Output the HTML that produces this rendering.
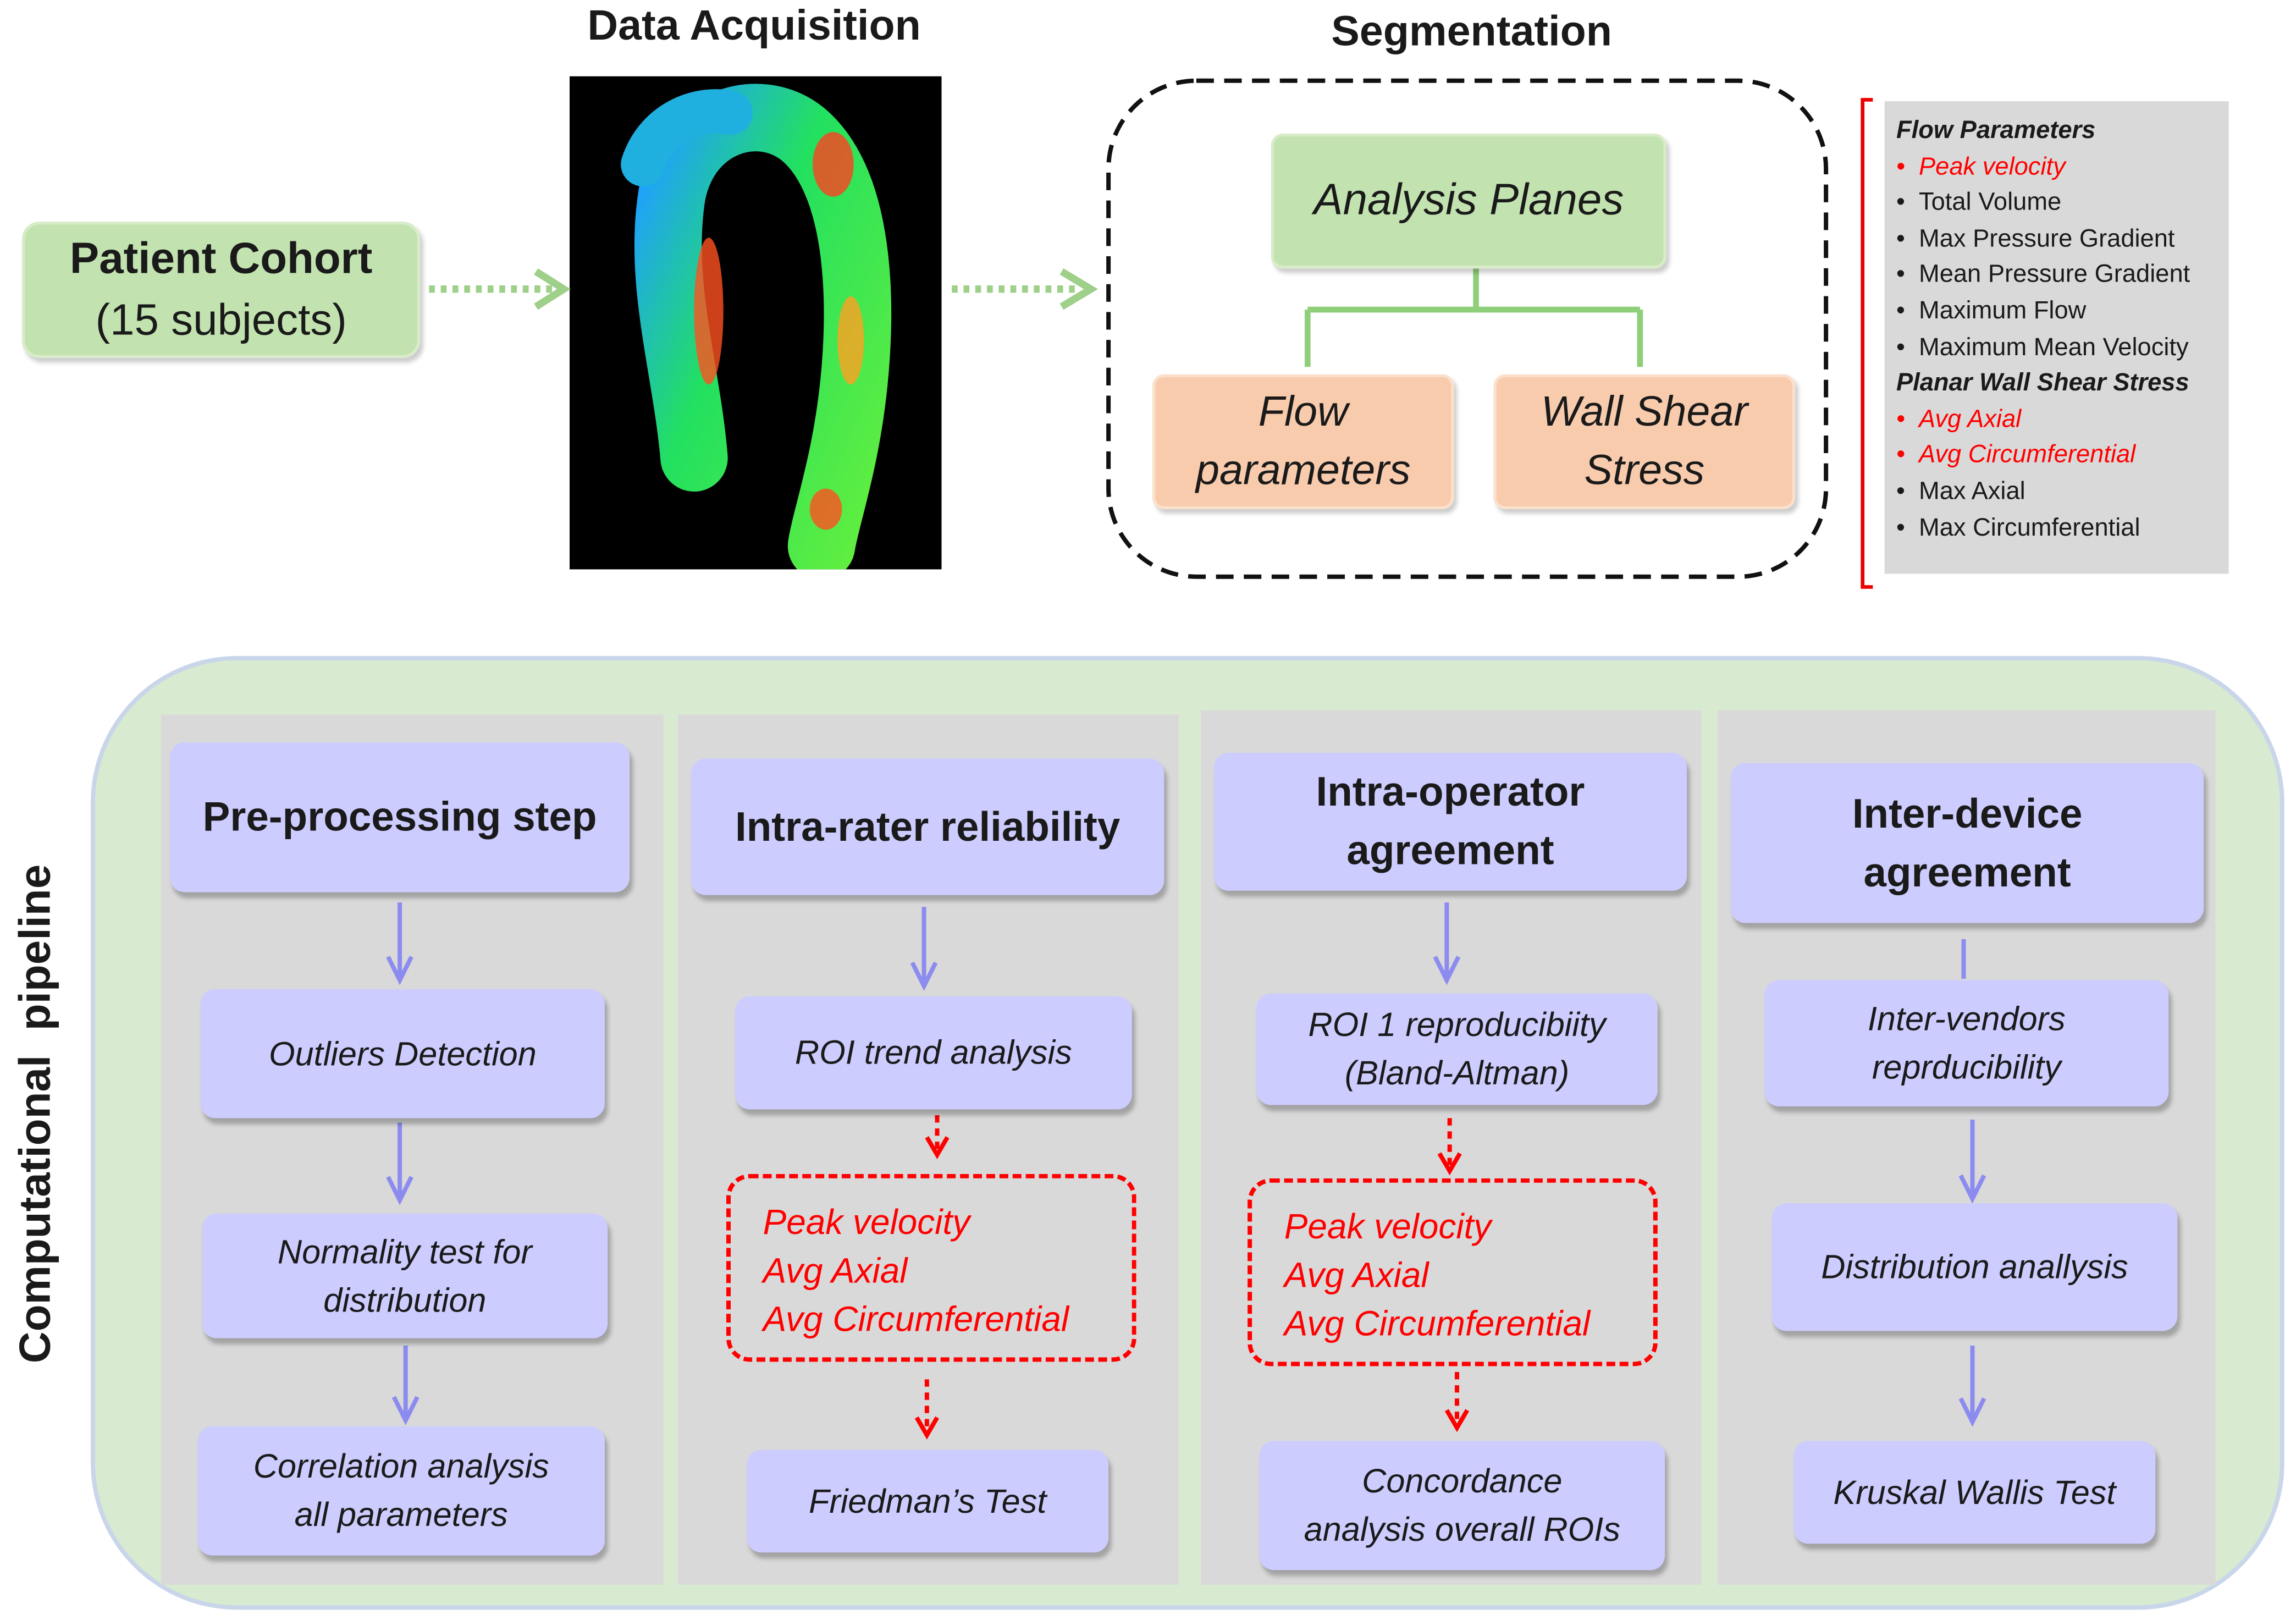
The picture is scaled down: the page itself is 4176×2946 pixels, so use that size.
<!DOCTYPE html>
<html><head><meta charset="utf-8"><style>
html,body{margin:0;padding:0;background:#fff;width:4176px;height:2946px;overflow:hidden}
#w{position:absolute;left:0;top:0;width:1568px;height:1104px;transform:scale(2.6633,2.6685);transform-origin:0 0;font-family:"Liberation Sans",sans-serif;color:#1a1a1a}
.a{position:absolute;box-sizing:border-box}
.t{display:flex;align-items:center;justify-content:center;text-align:center}
.lav{background:#ccccff;border-radius:10px;box-shadow:2px 4px 3px rgba(0,0,0,.25);font-style:italic;font-size:23px;line-height:33px}
.hd{background:#ccccff;border-radius:10px;box-shadow:2px 4px 3px rgba(0,0,0,.25);font-weight:bold;font-size:28px;line-height:40px}
.col{background:#d9d9d9}
.rb{border:3px dashed #ff0000;border-radius:16px;color:#ff0000;font-style:italic;font-size:24px;line-height:33px;padding:14px 0 0 22px}
</style></head><body><div id="w">
<div class="a" style="left:370px;top:2px;width:290px;text-align:center;font-weight:bold;font-size:29px">Data Acquisition</div>
<div class="a" style="left:860px;top:6px;width:290px;text-align:center;font-weight:bold;font-size:29px">Segmentation</div>
<div class="a" style="left:389px;top:52px;width:254px;height:336px;background:#000"></div>
<svg class="a" style="left:389px;top:52px" width="254" height="336">
<defs><linearGradient id="g" x1="0" y1="0" x2="1" y2="1"><stop offset="0" stop-color="#1fa0ff"/><stop offset=".4" stop-color="#22e060"/><stop offset="1" stop-color="#60ee40"/></linearGradient></defs>
<path d="M85 260 C80 200 60 140 70 80 C80 30 130 15 160 40 C195 70 200 140 195 200 C190 260 175 300 172 320" fill="none" stroke="url(#g)" stroke-width="46" stroke-linecap="round"/>
<path d="M50 60 C60 30 90 20 110 25" fill="none" stroke="#20b0e0" stroke-width="30" stroke-linecap="round"/>
<ellipse cx="95" cy="160" rx="10" ry="50" fill="#ff5020" opacity=".8"/>
<ellipse cx="180" cy="60" rx="14" ry="22" fill="#ff4020" opacity=".8"/>
<ellipse cx="192" cy="180" rx="9" ry="30" fill="#ffa020" opacity=".8"/>
<ellipse cx="175" cy="295" rx="11" ry="14" fill="#ff5020" opacity=".8"/>
</svg>
<div class="a t" style="left:15px;top:151px;width:272px;height:93px;background:#c2e3b0;border:2px solid #d9ecc9;border-radius:12px;box-shadow:2px 3px 3px rgba(0,0,0,.2);font-size:30px;line-height:42px;flex-direction:column"><b>Patient Cohort</b><span>(15 subjects)</span></div>
<svg class="a" style="left:0;top:0" width="1568" height="1104">
<g stroke="#9fd08a" stroke-width="5" fill="none" stroke-dasharray="4 4"><path d="M293 197H378"/><path d="M650 197H735"/></g>
<g fill="none" stroke="#9fd08a" stroke-width="5"><path d="M366 185L385 197L366 209"/><path d="M725 185L745 197L725 209"/></g>
<rect x="757" y="55" width="490" height="338" rx="60" fill="none" stroke="#111" stroke-width="3" stroke-dasharray="12 7"/>
<g stroke="#8fcf7a" stroke-width="4" fill="none"><path d="M1008 183V211M893 211H1120M893 211V250M1120 211V250"/></g>
<path d="M1279 68H1272V400H1279" stroke="#e00" stroke-width="2.5" fill="none"/>
<g stroke="#8c8cf0" stroke-width="3" fill="#8c8cf0">
<path d="M273 615V666M265 652L273 668L281 652" fill="none"/>
<path d="M273 765V816M265 802L273 818L281 802" fill="none"/>
<path d="M277 917V966M269 952L277 968L285 952" fill="none"/>
<path d="M631 618V670M623 656L631 672L639 656" fill="none"/>
<path d="M988 615V666M980 652L988 668L996 652" fill="none"/>
<path d="M1341 640V667"/>
<path d="M1347 763V815M1339 801L1347 817L1355 801" fill="none"/>
<path d="M1347 917V967M1339 953L1347 969L1355 953" fill="none"/>
</g>
<g stroke="#ff0000" stroke-width="3" fill="none">
<path d="M640 760V785" stroke-dasharray="5 4"/><path d="M633 775L640 787L647 775"/>
<path d="M633 940V976" stroke-dasharray="5 4"/><path d="M626 966L633 978L640 966"/>
<path d="M990 762V796" stroke-dasharray="5 4"/><path d="M983 786L990 798L997 786"/>
<path d="M995 935V971" stroke-dasharray="5 4"/><path d="M988 961L995 973L1002 961"/>
</g>
</svg>
<div class="a t" style="left:868px;top:91px;width:270px;height:92px;background:#c2e3b0;border:2px solid #d9ecc9;border-radius:8px;box-shadow:2px 3px 3px rgba(0,0,0,.2);font-style:italic;font-size:30px">Analysis Planes</div>
<div class="a t" style="left:787px;top:255px;width:206px;height:92px;background:#f8cbad;border:2px solid #fbe0cc;border-radius:8px;box-shadow:2px 3px 3px rgba(0,0,0,.2);font-style:italic;font-size:29px;line-height:40px">Flow<br>parameters</div>
<div class="a t" style="left:1020px;top:255px;width:206px;height:92px;background:#f8cbad;border:2px solid #fbe0cc;border-radius:8px;box-shadow:2px 3px 3px rgba(0,0,0,.2);font-style:italic;font-size:29px;line-height:40px">Wall Shear<br>Stress</div>
<div class="a" style="left:1287px;top:69px;width:235px;height:322px;background:#d9d9d9;font-size:17px;line-height:24.6px;padding:8px 0 0 8px;white-space:nowrap">
<div style="font-weight:bold;font-style:italic">Flow Parameters</div>
<div style="color:#f00;font-style:italic">• &nbsp;Peak velocity</div>
<div>• &nbsp;Total Volume</div>
<div>• &nbsp;Max Pressure Gradient</div>
<div>• &nbsp;Mean Pressure Gradient</div>
<div>• &nbsp;Maximum Flow</div>
<div>• &nbsp;Maximum Mean Velocity</div>
<div style="font-weight:bold;font-style:italic">Planar Wall Shear Stress</div>
<div style="color:#f00;font-style:italic">• &nbsp;Avg Axial</div>
<div style="color:#f00;font-style:italic">• &nbsp;Avg Circumferential</div>
<div>• &nbsp;Max Axial</div>
<div>• &nbsp;Max Circumferential</div>
</div>
<div class="a" style="left:62px;top:447px;width:1498px;height:650px;background:#d8ebd0;border:3px solid #c9d6ea;border-radius:100px;z-index:-1"></div>
<div class="a" style="left:-175px;top:742px;width:400px;text-align:center;transform:rotate(-90deg);font-weight:bold;font-size:30px;white-space:nowrap">Computational&nbsp; pipeline</div>
<div class="a col" style="left:110px;top:487px;width:343px;height:593px;z-index:-1"></div>
<div class="a col" style="left:463px;top:487px;width:342px;height:593px;z-index:-1"></div>
<div class="a col" style="left:820px;top:484px;width:342px;height:596px;z-index:-1"></div>
<div class="a col" style="left:1173px;top:484px;width:340px;height:596px;z-index:-1"></div>

<div class="a t hd" style="left:116px;top:506px;width:314px;height:102px">Pre-processing step</div>
<div class="a t lav" style="left:137px;top:674px;width:276px;height:88px">Outliers Detection</div>
<div class="a t lav" style="left:138px;top:827px;width:277px;height:85px">Normality test for<br>distribution</div>
<div class="a t lav" style="left:135px;top:972px;width:278px;height:88px">Correlation analysis<br>all parameters</div>

<div class="a t hd" style="left:472px;top:517px;width:323px;height:93px">Intra-rater reliability</div>
<div class="a t lav" style="left:502px;top:679px;width:271px;height:77px">ROI trend analysis</div>
<div class="a rb" style="left:496px;top:800px;width:280px;height:128px">Peak velocity<br>Avg Axial<br>Avg Circumferential</div>
<div class="a t lav" style="left:510px;top:988px;width:247px;height:70px">Friedman’s Test</div>

<div class="a t hd" style="left:829px;top:513px;width:323px;height:94px">Intra-operator<br>agreement</div>
<div class="a t lav" style="left:858px;top:677px;width:274px;height:76px">ROI 1 reproducibiity<br>(Bland-Altman)</div>
<div class="a rb" style="left:852px;top:803px;width:280px;height:128px">Peak velocity<br>Avg Axial<br>Avg Circumferential</div>
<div class="a t lav" style="left:860px;top:982px;width:277px;height:88px">Concordance<br>analysis overall ROIs</div>

<div class="a t hd" style="left:1182px;top:520px;width:323px;height:109px">Inter-device<br>agreement</div>
<div class="a t lav" style="left:1205px;top:668px;width:276px;height:86px">Inter-vendors<br>reprducibility</div>
<div class="a t lav" style="left:1210px;top:820px;width:277px;height:87px">Distribution anallysis</div>
<div class="a t lav" style="left:1225px;top:982px;width:247px;height:70px">Kruskal Wallis Test</div>
</div></body></html>
